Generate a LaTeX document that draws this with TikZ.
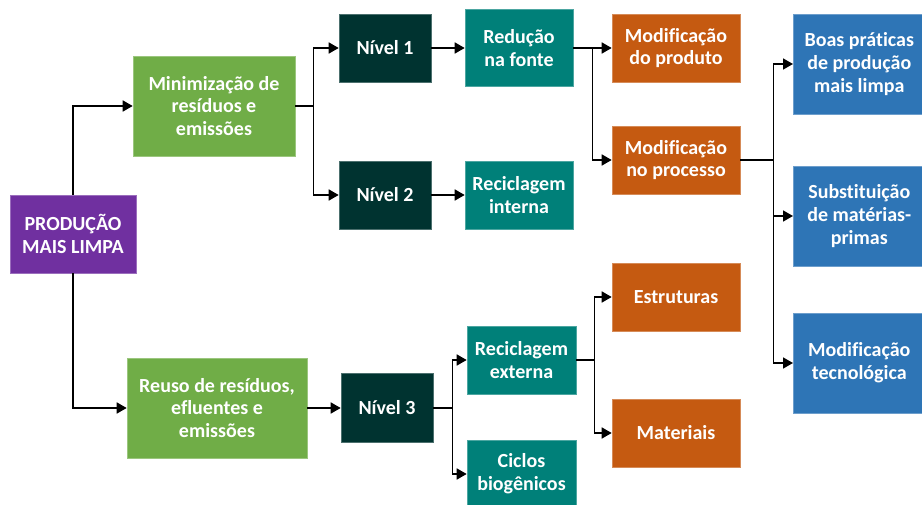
\documentclass[tikz,border=0pt]{standalone}
\usepackage{fontspec}
\setmainfont{Carlito}[Ligatures=NoCommon]
\usetikzlibrary{arrows.meta}
\definecolor{cpurple}{HTML}{7030A0}
\definecolor{cgreen}{HTML}{70AD47}
\definecolor{cdark}{HTML}{003330}
\definecolor{cteal}{HTML}{008079}
\definecolor{corange}{HTML}{C55A11}
\definecolor{cblue}{HTML}{2E75B6}
\tikzset{
  box/.style={rectangle, inner sep=0pt, text=white, align=center,
    font=\fontsize{20}{22.8}\selectfont\bfseries, draw=#1!70!white, fill=#1, line width=0.6pt},
  arr/.style={line width=1.6pt, -{Triangle[length=10pt,width=11pt]}},
}
\begin{document}
\begin{tikzpicture}[x=1pt,y=-1pt]
\useasboundingbox (0,0) rectangle (922,505);
\begin{scope}
\clip (0,0) rectangle (922,505);
\node[box=cpurple, minimum width=126, minimum height=78] (pml) at (73,234) {PRODUÇÃO\\MAIS LIMPA};
\node[box=cgreen, minimum width=162, minimum height=100] (min) at (214,106) {Minimização de\\resíduos e\\emissões};
\node[box=cgreen, minimum width=180, minimum height=100] (reu) at (217,408) {Reuso de resíduos,\\efluentes e\\emissões};
\node[box=cdark, minimum width=92, minimum height=68] (n1) at (385,48) {Nível 1};
\node[box=cdark, minimum width=92, minimum height=68] (n2) at (385,195) {Nível 2};
\node[box=cdark, minimum width=92, minimum height=69] (n3) at (387,408) {Nível 3};
\node[box=cteal, minimum width=108, minimum height=77] (red) at (519,48) {Redução\\na fonte};
\node[box=cteal, minimum width=108, minimum height=68] (rint) at (519,195) {Reciclagem\\interna};
\node[box=cteal, minimum width=109, minimum height=68] (rext) at (521.5,360) {Reciclagem\\externa};
\node[box=cteal, minimum width=109, minimum height=67] (cic) at (521.5,474) {Ciclos\\biogênicos};
\node[box=corange, minimum width=128, minimum height=68] (mprod) at (676,48) {Modificação\\do produto};
\node[box=corange, minimum width=128, minimum height=68] (mproc) at (676,160) {Modificação\\no processo};
\node[box=corange, minimum width=128, minimum height=68] (est) at (676,297) {Estruturas};
\node[box=corange, minimum width=128, minimum height=68] (mat) at (676,433) {Materiais};
\node[box=cblue, minimum width=132, minimum height=100, anchor=west] (boas) at (793,64) {Boas práticas\\de produção\\mais limpa};
\node[box=cblue, minimum width=132, minimum height=100, anchor=west] (sub) at (793,216) {Substituição\\de matérias-\\primas};
\node[box=cblue, minimum width=132, minimum height=100, anchor=west] (tec) at (793,363) {Modificação\\tecnológica};
\end{scope}
% connectors
\draw[arr] (pml.north) |- (min.west);
\draw[arr] (pml.south) |- (reu.west);
\draw[arr] (min.east) -- ++(18,0) |- (n1.west);
\draw[arr] (min.east) -- ++(18,0) |- (n2.west);
\draw[arr] (n1.east) -- (red.west);
\draw[arr] (n2.east) -- (rint.west);
\draw[arr] (red.east) -- (mprod.west);
\draw[arr] (red.east) -- ++(19,0) |- (mproc.west);
\draw[arr] (mproc.east) -- ++(33,0) |- (boas.west);
\draw[arr] (mproc.east) -- ++(33,0) |- (sub.west);
\draw[arr] (mproc.east) -- ++(33,0) |- (tec.west);
\draw[arr] (reu.east) -- (n3.west);
\draw[arr] (n3.east) -- ++(19,0) |- (rext.west);
\draw[arr] (n3.east) -- ++(19,0) |- (cic.west);
\draw[arr] (rext.east) -- ++(18,0) |- (est.west);
\draw[arr] (rext.east) -- ++(18,0) |- (mat.west);
\end{tikzpicture}
\end{document}
